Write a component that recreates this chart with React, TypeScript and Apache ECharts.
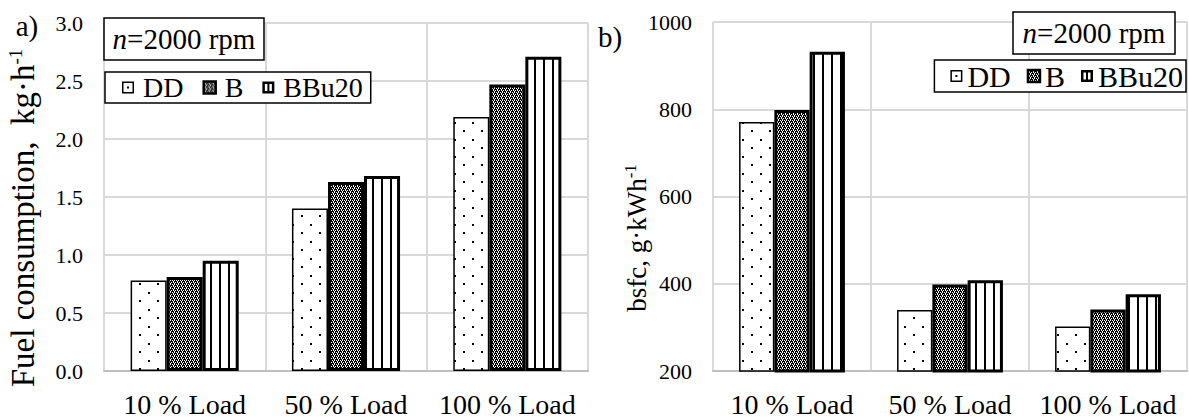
import React, { useEffect, useRef } from "react";
import * as echarts from "echarts";

const categories = ["10 % Load", "50 % Load", "100 % Load"];
const seriesNames = ["DD", "B", "BBu20"];

// a) Fuel consumption, kg·h-1
const fuelDD = [0.78, 1.4, 2.19];
const fuelB = [0.81, 1.63, 2.47];
const fuelBBu20 = [0.95, 1.68, 2.71];
const fuelAxis = { min: 0, max: 3, interval: 0.5 };

// b) bsfc, g·kWh-1
const bsfcDD = [771, 340, 302];
const bsfcB = [798, 398, 341];
const bsfcBBu20 = [932, 408, 376];
const bsfcAxis = { min: 200, max: 1000, interval: 200 };

const FONT = "Liberation Serif";

function makeTile(w: number, h: number, draw: (ctx: CanvasRenderingContext2D) => void) {
  const c = document.createElement("canvas");
  c.width = w;
  c.height = h;
  const ctx = c.getContext("2d") as CanvasRenderingContext2D;
  draw(ctx);
  return c;
}

export default function App() {
  const ref = useRef<HTMLDivElement>(null);
  useEffect(() => {
    if (!ref.current) return;
    const chart = echarts.init(ref.current, undefined, { renderer: "svg" });

    const dotTile = makeTile(18, 17, (ctx) => {
      ctx.fillStyle = "#fff";
      ctx.fillRect(0, 0, 18, 17);
      ctx.fillStyle = "#000";
      ctx.fillRect(4, 3, 2, 2);
      ctx.fillRect(13, 11, 2, 2);
    });
    const checkTile = makeTile(4, 4, (ctx) => {
      ctx.fillStyle = "#000";
      ctx.fillRect(0, 0, 4, 4);
      ctx.fillStyle = "#fff";
      ctx.fillRect(0, 0, 1, 1);
      ctx.fillRect(2, 0, 1, 1);
      ctx.fillRect(1, 1, 1, 1);
      ctx.fillRect(1, 2, 1, 1);
      ctx.fillRect(3, 2, 1, 1);
      ctx.fillRect(2, 3, 1, 1);
    });
    const stripeTile = makeTile(9, 4, (ctx) => {
      ctx.fillStyle = "#fff";
      ctx.fillRect(0, 0, 9, 4);
      ctx.fillStyle = "#000";
      ctx.fillRect(3, 0, 2, 4);
    });
    const pat = (c: HTMLCanvasElement) => ({ image: c, repeat: "repeat" });

    const styles = [
      { color: pat(dotTile), borderColor: "#000", borderWidth: 1.5 },
      { color: pat(checkTile), borderColor: "#000", borderWidth: 3 },
      { color: pat(stripeTile), borderColor: "#000", borderWidth: 3 },
    ];

    const fuelData = [fuelDD, fuelB, fuelBBu20];
    const bsfcData = [bsfcDD, bsfcB, bsfcBBu20];

    const series: any[] = [];
    [fuelData, bsfcData].forEach((set, gi) => {
      set.forEach((vals, si) => {
        series.push({
          type: "bar",
          name: seriesNames[si],
          xAxisIndex: gi,
          yAxisIndex: gi,
          data: vals,
          barGap: "0%",
          barCategoryGap: "33%",
          itemStyle: styles[si],
        });
      });
    });

    const legendData = [
      {
        name: "DD",
        icon: "path://M0,0H12V12H0Z M1.5,1.5V10.5H10.5V1.5Z M5,5H7V7H5Z",
        itemStyle: { color: "#000", borderWidth: 0 },
      },
      {
        name: "B",
        icon: "rect",
        itemStyle: { color: pat(checkTile), borderColor: "#000", borderWidth: 2.5 },
      },
      {
        name: "BBu20",
        icon: "path://M0,0H12V12H0Z M2.5,2.5V9.5H9.5V2.5Z M5,2.5H7V9.5H5Z",
        itemStyle: { color: "#000", borderWidth: 0 },
      },
    ];

    const xAxisBase = {
      type: "category",
      data: categories,
      axisTick: { show: false },
      axisLine: { lineStyle: { color: "#bfbfbf", width: 2 } },
      axisLabel: { interval: 0, fontSize: 28, margin: 19, color: "#000", fontFamily: FONT },
      splitLine: { show: true, lineStyle: { color: "#d9d9d9", width: 2 } },
    };
    const yAxisBase = {
      type: "value",
      axisLine: { show: false },
      axisTick: { show: false },
      splitLine: { show: true, lineStyle: { color: "#d9d9d9", width: 2 } },
    };

    const option: any = {
      animation: false,
      backgroundColor: "#fff",
      textStyle: { fontFamily: FONT, color: "#000" },
      grid: [
        { left: 104, right: 601, top: 23, bottom: 48 },
        { left: 713, right: 2, top: 22, bottom: 48 },
      ],
      xAxis: [
        { ...xAxisBase, gridIndex: 0 },
        { ...xAxisBase, gridIndex: 1 },
      ],
      yAxis: [
        {
          ...yAxisBase,
          gridIndex: 0,
          min: fuelAxis.min,
          max: fuelAxis.max,
          interval: fuelAxis.interval,
          axisLabel: {
            fontSize: 22,
            margin: 21,
            color: "#000",
            fontFamily: FONT,
            formatter: (v: number) => v.toFixed(1),
          },
        },
        {
          ...yAxisBase,
          gridIndex: 1,
          min: bsfcAxis.min,
          max: bsfcAxis.max,
          interval: bsfcAxis.interval,
          axisLabel: {
            fontSize: 22,
            margin: 21,
            color: "#000",
            fontFamily: FONT,
            formatter: (v: number) => String(v),
          },
        },
      ],
      legend: [
        {
          left: 105,
          top: 72,
          data: legendData,
          itemWidth: 12,
          itemHeight: 12,
          itemGap: 19,
          padding: [1, 8, 1, 17],
          borderColor: "#000",
          borderWidth: 1.5,
          backgroundColor: "#fff",
          selectedMode: false,
          textStyle: { fontSize: 28, fontFamily: FONT, color: "#000", lineHeight: 29, padding: [0, 0, 0, 4] },
        },
        {
          right: 3,
          top: 60,
          data: legendData,
          itemWidth: 12,
          itemHeight: 12,
          itemGap: 16,
          padding: [1, 3, 1, 16],
          borderColor: "#000",
          borderWidth: 1.5,
          backgroundColor: "#fff",
          selectedMode: false,
          textStyle: { fontSize: 30, fontFamily: FONT, color: "#000", lineHeight: 29 },
        },
      ],
      graphic: [
        {
          type: "rect",
          z: 100,
          shape: { x: 104, y: 18, width: 160, height: 42 },
          style: { fill: "#fff", stroke: "#000", lineWidth: 1.5 },
        },
        {
          type: "text",
          z: 101,
          x: 184,
          y: 39,
          style: {
            text: "{i|n}=2000 rpm",
            rich: { i: { fontStyle: "italic", fontSize: 29, fontFamily: FONT, fill: "#000" } },
            fontSize: 29,
            fontFamily: FONT,
            fill: "#000",
            align: "center",
            verticalAlign: "middle",
          },
        },
        {
          type: "rect",
          z: 100,
          shape: { x: 1013, y: 12, width: 162, height: 42 },
          style: { fill: "#fff", stroke: "#000", lineWidth: 1.5 },
        },
        {
          type: "text",
          z: 101,
          x: 1094,
          y: 33,
          style: {
            text: "{i|n}=2000 rpm",
            rich: { i: { fontStyle: "italic", fontSize: 29, fontFamily: FONT, fill: "#000" } },
            fontSize: 29,
            fontFamily: FONT,
            fill: "#000",
            align: "center",
            verticalAlign: "middle",
          },
        },
        {
          type: "text",
          z: 101,
          x: 27,
          y: 26,
          style: { text: "a)", fontSize: 29, fontFamily: FONT, fill: "#000", align: "center", verticalAlign: "middle" },
        },
        {
          type: "text",
          z: 101,
          x: 610,
          y: 37,
          style: { text: "b)", fontSize: 29, fontFamily: FONT, fill: "#000", align: "center", verticalAlign: "middle" },
        },
        {
          type: "text",
          z: 101,
          x: 23,
          y: 218,
          rotation: Math.PI / 2,
          style: {
            text: "{a|Fuel consumption,  kg·h}{s|-1}",
            rich: {
              a: { fontSize: 33, fontFamily: FONT, fill: "#000" },
              s: { fontSize: 19, fontFamily: FONT, fill: "#000", padding: [0, 0, 15, 0] },
            },
            align: "center",
            verticalAlign: "middle",
          },
        },
        {
          type: "text",
          z: 101,
          x: 637,
          y: 238,
          rotation: Math.PI / 2,
          style: {
            text: "{a|bsfc, g·kWh}{s|-1}",
            rich: {
              a: { fontSize: 27, fontFamily: FONT, fill: "#000" },
              s: { fontSize: 17, fontFamily: FONT, fill: "#000", padding: [0, 0, 14, 0] },
            },
            align: "center",
            verticalAlign: "middle",
          },
        },
      ],
      series,
    };

    chart.setOption(option);
    return () => chart.dispose();
  }, []);

  return (
    <div
      ref={ref}
      style={{ position: "absolute", left: 0, top: 0, width: 1189, height: 419, background: "#fff" }}
    />
  );
}
